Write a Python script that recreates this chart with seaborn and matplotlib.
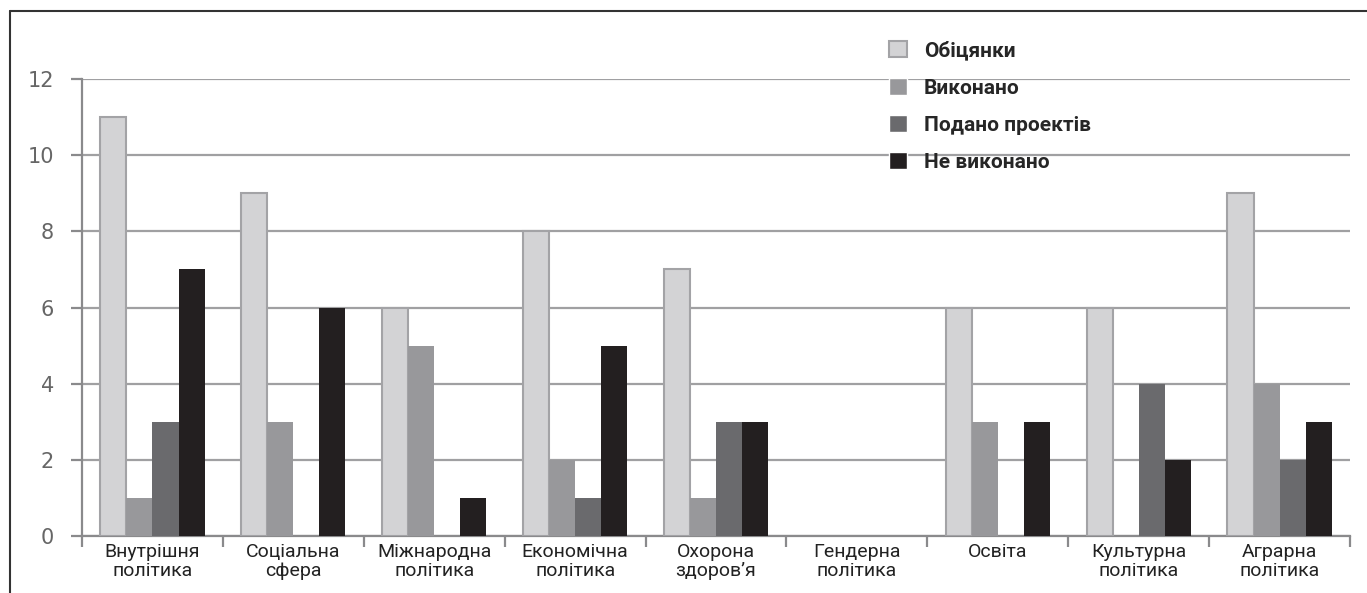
import numpy as np
import pandas as pd
import matplotlib
matplotlib.use("Agg")
import matplotlib.pyplot as plt
import seaborn as sns
from matplotlib.lines import Line2D

categories = ["Внутрішня\nполітика", "Соціальна\nсфера", "Міжнародна\nполітика",
              "Економічна\nполітика", "Охорона\nздоров’я", "Гендерна\nполітика",
              "Освіта", "Культурна\nполітика", "Аграрна\nполітика"]
series = ["Обіцянки", "Виконано", "Подано проектів", "Не виконано"]
promised = [11, 9, 6, 8, 7, 0, 6, 6, 9]
done = [1, 3, 5, 2, 1, 0, 3, 0, 4]
submitted = [3, 0, 0, 1, 3, 0, 0, 4, 2]
not_done = [7, 6, 1, 5, 3, 0, 3, 2, 3]
colors = ["#d3d3d5", "#98989b", "#6a6a6d", "#231f20"]

df = pd.DataFrame({"cat": categories * 4,
                   "series": np.repeat(series, len(categories)),
                   "value": promised + done + submitted + not_done})

sns.set_style("white")
narrow = ["Roboto", "DejaVu Sans"]

fig = plt.figure(figsize=(13.67, 5.93), dpi=100)
ax = fig.add_axes([0.060, 0.0961, 0.9276, 0.7707])

sns.barplot(data=df, x="cat", y="value", hue="series", hue_order=series,
            palette=colors, width=0.74, gap=0, saturation=1, ax=ax,
            errorbar=None, zorder=3)

# light bars get a gray outline
for bar in ax.containers[0]:
    if bar.get_height() > 0:
        bar.set_edgecolor("#a3a3a6")
        bar.set_linewidth(1.5)
    else:
        bar.set_linewidth(0)
for cont in ax.containers[1:]:
    for bar in cont:
        bar.set_linewidth(0)

ax.set_ylim(0, 12)
ax.set_xlim(-0.5, len(categories) - 0.5)
ax.set_yticks(range(0, 13, 2))
ax.yaxis.grid(True, color="#a0a0a2", linewidth=1.6, zorder=0)
ax.set_axisbelow(True)
ax.set_xlabel("")
ax.set_ylabel("")

for s in ["top", "right"]:
    ax.spines[s].set_visible(False)
for s in ["left", "bottom"]:
    ax.spines[s].set_color("#8a8a8c")
    ax.spines[s].set_linewidth(1.6)

ax.tick_params(axis="y", left=True, length=8, width=1.6, color="#8a8a8c",
               labelsize=15, labelcolor="#666666", pad=12)
ax.set_xticks(np.arange(-0.5, len(categories), 1.0), minor=True)
ax.tick_params(axis="x", which="minor", bottom=True, length=8, width=1.6, color="#8a8a8c")
ax.tick_params(axis="x", which="major", bottom=False, length=0, pad=5)
ax.set_xticks(range(len(categories)))
ax.set_xticklabels(categories, fontsize=14, color="#222222", family=narrow,
                   linespacing=1.05)

handles, labels = ax.get_legend_handles_labels()
leg = ax.legend(handles, labels, loc="upper left", bbox_to_anchor=(0.622, 1.125),
                frameon=False, handlelength=0.85, handleheight=0.85,
                labelspacing=0.85, handletextpad=0.8,
                prop={"family": narrow, "weight": "bold", "size": 15})
leg.legend_handles[0].set_edgecolor("#a3a3a6")
leg.legend_handles[0].set_linewidth(1.5)

# outer frame on the top and left
fig.add_artist(Line2D([10 / 1367, 1], [1 - 11 / 593, 1 - 11 / 593],
                      color="#333333", linewidth=1.5))
fig.add_artist(Line2D([10 / 1367, 10 / 1367], [0, 1 - 11 / 593],
                      color="#333333", linewidth=1.5))

fig.savefig("out.png", dpi=100)
